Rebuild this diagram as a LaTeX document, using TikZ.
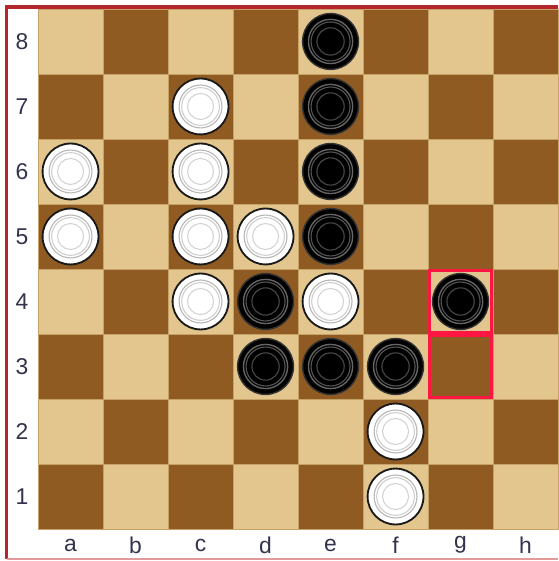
\documentclass[tikz,border=0pt]{standalone}
\usepackage{fontspec}
\setmainfont{Liberation Sans}
\definecolor{lightsq}{HTML}{E3C58E}
\definecolor{darksq}{HTML}{8F5B22}
\definecolor{sqline}{HTML}{C7A266}
\definecolor{framered}{HTML}{B3262E}
\definecolor{framepink}{HTML}{E29A9A}
\definecolor{markred}{HTML}{FF1744}
\definecolor{labelcol}{HTML}{33334D}

\begin{document}
\begin{tikzpicture}[
  sq/.style={draw=sqline, line width=0.3pt},
  coord/.style={font=\fontsize{10}{12}\selectfont, text=labelcol, inner sep=0pt},
  bpiece/.style={circle, fill=black, draw=black!80, line width=0.6pt, minimum size=0.86cm, inner sep=0pt,
    path picture={
      \draw[black!60, line width=0.6pt] (path picture bounding box.center) circle (0.34cm);
      \draw[black!68, line width=0.5pt] (path picture bounding box.center) circle (0.30cm);
      \draw[black!72, line width=0.5pt] (path picture bounding box.center) circle (0.21cm);
    }},
  wpiece/.style={circle, fill=white, draw=black!90, line width=0.8pt, minimum size=0.86cm, inner sep=0pt,
    path picture={
      \draw[gray!55, line width=0.5pt] (path picture bounding box.center) circle (0.33cm);
      \draw[gray!40, line width=0.45pt] (path picture bounding box.center) circle (0.29cm);
      \draw[gray!35, line width=0.45pt] (path picture bounding box.center) circle (0.20cm);
    }},
  hilite/.style={draw=markred, line width=1.3pt},
  scale=1
]
\useasboundingbox[fill=white] (-0.585,-0.492) rectangle (8,8.138);

% Frame
\draw[framered, line width=1.5pt] (-0.485,-0.46) -- (-0.485,8.03) -- (8,8.03);
\draw[framepink, line width=0.6pt] (-0.485,-0.46) -- (8,-0.46);

% Board
\foreach \i in {0,...,7}
  \foreach \j in {0,...,7} {
    \pgfmathparse{mod(\i+\j,2)==0 ? "darksq" : "lightsq"}
    \edef\sqcol{\pgfmathresult}
    \filldraw[sq, fill=\sqcol] (\i,\j) rectangle ++(1,1);
  }

% Coordinates
\foreach \f [count=\i from 0] in {a,b,c,d,e,f,g,h}
  \node[coord] (file-\f) at (\i+0.5,-0.246) {\f};
\foreach \r in {1,...,8}
  \node[coord] (rank-\r) at (-0.247,\r-0.5) {\r};

% Marked squares
\draw[hilite] (6.025,3.025) rectangle (6.975,3.975);
\draw[hilite] (6.025,2.025) rectangle (6.975,2.975);

% White pieces
\node[wpiece] (c7) at (2.5,6.5) {};
\node[wpiece] (a6) at (0.5,5.5) {};
\node[wpiece] (c6) at (2.5,5.5) {};
\node[wpiece] (a5) at (0.5,4.5) {};
\node[wpiece] (c5) at (2.5,4.5) {};
\node[wpiece] (d5) at (3.5,4.5) {};
\node[wpiece] (c4) at (2.5,3.5) {};
\node[wpiece] (e4) at (4.5,3.5) {};
\node[wpiece] (f2) at (5.5,1.5) {};
\node[wpiece] (f1) at (5.5,0.5) {};

% Black pieces
\node[bpiece] (e8) at (4.5,7.5) {};
\node[bpiece] (e7) at (4.5,6.5) {};
\node[bpiece] (e6) at (4.5,5.5) {};
\node[bpiece] (e5) at (4.5,4.5) {};
\node[bpiece] (d4) at (3.5,3.5) {};
\node[bpiece] (g4) at (6.5,3.5) {};
\node[bpiece] (d3) at (3.5,2.5) {};
\node[bpiece] (e3) at (4.5,2.5) {};
\node[bpiece] (f3) at (5.5,2.5) {};
\end{tikzpicture}
\end{document}
